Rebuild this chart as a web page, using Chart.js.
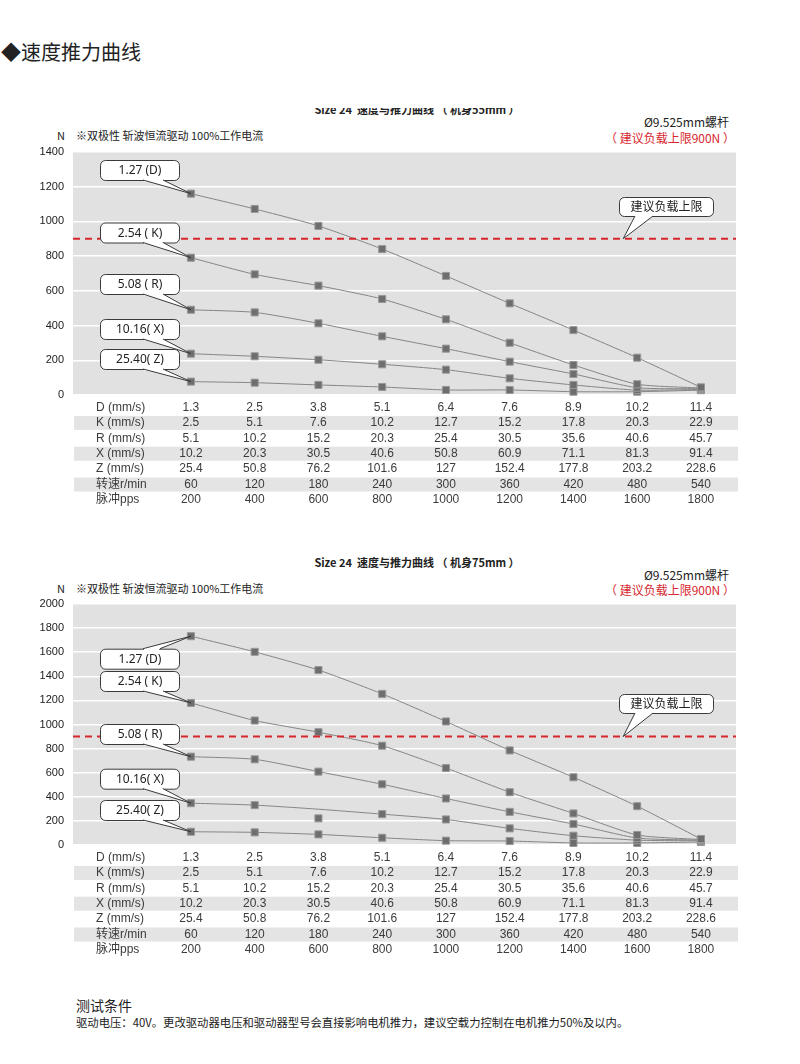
<!DOCTYPE html>
<html>
<head>
<meta charset="utf-8">
<title>速度推力曲线</title>
<script src="https://cdn.jsdelivr.net/npm/chart.js@4.4.0/dist/chart.umd.min.js"></script>
<style>
    body {
        margin: 0;
        width: 800px;
        height: 1064px;
        position: relative;
        overflow: hidden;
        background: #fff;
        color: #222;
        font-family: "Noto Sans CJK SC", "Noto Sans", sans-serif;
    }
    .t { position: absolute; white-space: nowrap; line-height: 1.448; }
    .f11 { font-size: 11px; }
    .f12 { font-size: 12px; }
    .red { color: #d7282f; }
    .title { font-size: 11px; font-weight: bold; width: 834px; left: 0; text-align: center; }
    .clip { position: absolute; left: 0; top: 108px; width: 800px; height: 10px; overflow: hidden; }
    canvas { position: absolute; left: 0; }
</style>
</head>
<body>
<div class="t" style="left:1px; top:38px; font-size:20px;">◆速度推力曲线</div>

<!-- chart 1 texts -->
<div class="clip"><div class="t title" style="top:-6px;">Size 24&nbsp;&nbsp;速度与推力曲线 （ 机身55mm ）</div></div>
<div class="t f11" style="left:57px; top:128px;">N</div>
<div class="t f11" style="left:76px; top:128px;">※双极性 斩波恒流驱动 100%工作电流</div>
<div class="t f12" style="right:71px; top:113px;">Ø9.525mm螺杆</div>
<div class="t f12 red" style="right:65px; top:128.5px;">（ 建议负载上限900N ）</div>
<canvas id="chart55" width="800" height="370" style="top:140px; width:800px; height:370px;"></canvas>

<!-- chart 2 texts -->
<div class="t title" style="top:555px;">Size 24&nbsp;&nbsp;速度与推力曲线 （ 机身75mm ）</div>
<div class="t f11" style="left:57px; top:580.5px;">N</div>
<div class="t f11" style="left:76px; top:580.5px;">※双极性 斩波恒流驱动 100%工作电流</div>
<div class="t f12" style="right:71px; top:566px;">Ø9.525mm螺杆</div>
<div class="t f12 red" style="right:65px; top:580.5px;">（ 建议负载上限900N ）</div>
<canvas id="chart75" width="800" height="370" style="top:592px; width:800px; height:370px;"></canvas>

<div class="t" style="left:76px; top:995px; font-size:14px;">测试条件</div>
<div class="t" id="note" style="left:76px; top:1013.5px; font-size:11.5px; transform-origin:0 0;">驱动电压：40V。更改驱动器电压和驱动器型号会直接影响电机推力，建议空载力控制在电机推力50%及以内。</div>

<script>
// table under both charts
const rowLabels = ['D (mm/s)', 'K (mm/s)', 'R (mm/s)', 'X (mm/s)', 'Z (mm/s)', '转速r/min', '脉冲pps'];
const speedD = ['1.3', '2.5', '3.8', '5.1', '6.4', '7.6', '8.9', '10.2', '11.4'];
const speedK = ['2.5', '5.1', '7.6', '10.2', '12.7', '15.2', '17.8', '20.3', '22.9'];
const speedR = ['5.1', '10.2', '15.2', '20.3', '25.4', '30.5', '35.6', '40.6', '45.7'];
const speedX = ['10.2', '20.3', '30.5', '40.6', '50.8', '60.9', '71.1', '81.3', '91.4'];
const speedZ = ['25.4', '50.8', '76.2', '101.6', '127', '152.4', '177.8', '203.2', '228.6'];
const speedRpm = ['60', '120', '180', '240', '300', '360', '420', '480', '540'];
const speedPps = ['200', '400', '600', '800', '1000', '1200', '1400', '1600', '1800'];

// thrust (N), body 55mm
const force55D = [1160, 1072, 974, 841, 686, 528, 374, 215, 44];
const force55K = [791, 695, 630, 553, 436, 301, 173, 62, 40];
const force55R = [491, 476, 413, 338, 267, 192, 121, 42, 36];
const force55X = [238, 223, 203, 177, 146, 96, 58, 28, 32];
const force55Z = [77, 71, 58, 46, 29, 29, 19, 19, 28];

// thrust (N), body 75mm
const force75D = [1733, 1603, 1452, 1254, 1025, 785, 562, 322, 50];
const force75K = [1179, 1033, 936, 824, 639, 438, 262, 83, 45];
const force75R = [733, 711, 609, 504, 386, 275, 174, 58, 40];
const force75X = [347, 331, 297, 256, 212, 138, 77, 40, 35];
const force75XMarker = [null, null, 221, null, null, null, null, null, null];
const force75Z = [110, 105, 88, 60, 36, 33, 17, 17, 25];

const loadLimit = 900;
const yTicks55 = { max: 1400, step: 200 };
const yTicks75 = { max: 2000, step: 200 };

const calloutLabels = ['1.27 (D)', '2.54 ( K)', '5.08 ( R)', '10.16( X)', '25.40( Z)'];
const limitLabel = '建议负载上限';

// layout of the callout boxes (offsets from chart area)
const boxTops55 = [8, 70.5, 122, 167, 197];
const boxTops75 = [44.7, 67, 120, 164.7, 196];

const X_MIN = -1.85;
const X_MAX = 8.55;

function toPoints(values) {
    return values.map((v, i) => ({ x: i, y: v })).filter(p => p.y !== null);
}

function drawCallout(ctx, bx, by, bw, bh, text, tx, ty, b1, b2) {
    const edge = ty < by ? by : by + bh;
    ctx.save();
    ctx.lineWidth = 1;
    ctx.strokeStyle = '#3a3a3a';
    ctx.fillStyle = '#fff';
    ctx.beginPath();
    ctx.roundRect(bx + 0.5, by + 0.5, bw, bh, 5);
    ctx.fill();
    ctx.stroke();
    ctx.beginPath();
    ctx.moveTo(b1, edge);
    ctx.lineTo(tx, ty);
    ctx.lineTo(b2, edge);
    ctx.closePath();
    ctx.fill();
    ctx.fillRect(b1 + 1, edge - 1, b2 - b1 - 2, 2.5);
    ctx.beginPath();
    ctx.moveTo(b1, edge);
    ctx.lineTo(tx, ty);
    ctx.lineTo(b2, edge);
    ctx.stroke();
    ctx.fillStyle = '#222';
    ctx.font = '12px "Noto Sans", "Noto Sans CJK SC", sans-serif';
    ctx.textAlign = 'center';
    ctx.textBaseline = 'middle';
    ctx.fillText(text, bx + bw / 2 + 0.5, by + bh / 2 + 1);
    ctx.restore();
}

const decorPlugin = {
    id: 'decor',
    beforeDraw(chart) {
        const { ctx, chartArea: a } = chart;
        ctx.save();
        ctx.fillStyle = '#e1e1e1';
        ctx.fillRect(a.left, a.top, a.right - a.left, a.bottom - a.top);
        ctx.restore();
    },
    afterDatasetsDraw(chart, args, opts) {
        const { ctx, chartArea: a, scales: { x, y } } = chart;

        // recommended load limit
        const ly = y.getPixelForValue(loadLimit);
        ctx.save();
        ctx.strokeStyle = '#d7262e';
        ctx.lineWidth = 2;
        ctx.setLineDash([7, 5]);
        ctx.beginPath();
        ctx.moveTo(a.left, ly);
        ctx.lineTo(a.right, ly);
        ctx.stroke();
        ctx.restore();

        // series callouts
        opts.boxTops.forEach((top, i) => {
            const p = chart.data.datasets[i].data[0];
            const tx = x.getPixelForValue(p.x);
            const ty = y.getPixelForValue(p.y);
            const by = a.top + top;
            const b2 = ty < by ? a.left + 87 : a.left + 90;
            drawCallout(ctx, a.left + 27, by, 79, 20, calloutLabels[i], tx, ty, a.left + 70, b2);
        });

        // limit callout
        drawCallout(ctx, a.left + 546, a.top + opts.limitTop, 94, 19, limitLabel,
            x.getPixelForValue(6.78), ly, a.left + 562, a.left + 580);
    },
    afterDraw(chart) {
        const { ctx, chartArea: a, scales: { x } } = chart;
        const rows = [speedD, speedK, speedR, speedX, speedZ, speedRpm, speedPps];
        const rowH = 15.4;
        ctx.save();
        ctx.font = '12px "Liberation Sans", "Noto Sans CJK SC", sans-serif';
        ctx.textBaseline = 'middle';
        rows.forEach((row, r) => {
            const cy = a.bottom + 12.5 + r * rowH;
            if (r % 2 === 1) {
                ctx.fillStyle = '#e4e4e4';
                ctx.fillRect(a.left + 1, cy - 7, a.right - a.left + 1, 14);
            }
            ctx.fillStyle = '#3c3c3c';
            ctx.textAlign = 'left';
            ctx.fillText(rowLabels[r], a.left + 23, cy);
            ctx.textAlign = 'center';
            row.forEach((v, i) => ctx.fillText(v, x.getPixelForValue(i), cy));
        });
        ctx.restore();
    }
};

function lineSet(label, values, radii) {
    return {
        label: label,
        data: toPoints(values),
        borderColor: '#858585',
        borderWidth: 1,
        tension: 0.2,
        pointStyle: 'rect',
        pointRadius: radii || 5,
        pointBackgroundColor: '#6e6e6e',
        pointBorderColor: '#999',
        pointBorderWidth: 1,
        clip: false
    };
}

function makeChart(id, datasets, ticks, boxTops, limitTop, bottomPad) {
    return new Chart(document.getElementById(id), {
        type: 'line',
        data: { datasets: datasets },
        options: {
            responsive: false,
            animation: false,
            events: [],
            layout: { padding: { left: 0, right: 64, top: 12, bottom: bottomPad } },
            plugins: {
                legend: { display: false },
                tooltip: { enabled: false },
                decor: { boxTops: boxTops, limitTop: limitTop }
            },
            scales: {
                x: { type: 'linear', min: X_MIN, max: X_MAX, display: false },
                y: {
                    min: 0,
                    max: ticks.max,
                    afterFit: s => {
                        s.width = 73;
                        s.paddingTop = 0;
                        s.paddingBottom = 0;
                    },
                    border: { display: false },
                    grid: { color: '#fff', lineWidth: 1.5, drawTicks: false },
                    ticks: {
                        stepSize: ticks.step,
                        padding: 9,
                        color: '#222',
                        font: { family: '"Liberation Sans", sans-serif', size: 11 },
                        callback: v => String(v)
                    }
                }
            }
        },
        plugins: [decorPlugin]
    });
}

makeChart('chart55', [
    lineSet('D', force55D),
    lineSet('K', force55K),
    lineSet('R', force55R),
    lineSet('X', force55X),
    lineSet('Z', force55Z)
], yTicks55, boxTops55, 45, 115);

const markerSet = lineSet('X marker', force75XMarker);
markerSet.showLine = false;

makeChart('chart75', [
    lineSet('D', force75D),
    lineSet('K', force75K),
    lineSet('R', force75R),
    lineSet('X', force75X, force75XMarker.map(v => (v === null ? 5 : 0))),
    lineSet('Z', force75Z),
    markerSet
], yTicks75, boxTops75, 90, 117);

// stretch the note to the reference width
const note = document.getElementById('note');
note.style.transform = 'scaleX(' + (552 / note.offsetWidth) + ')';
</script>
</body>
</html>
